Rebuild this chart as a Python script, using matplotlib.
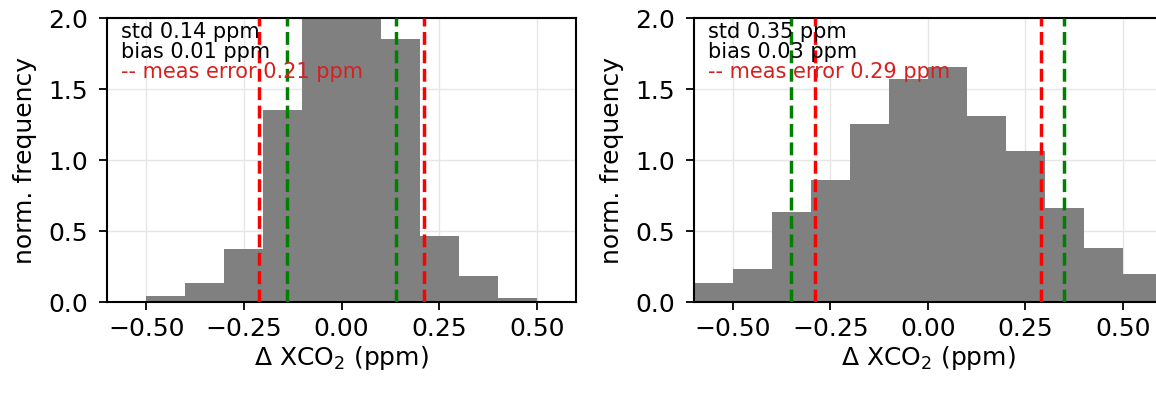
import numpy as np
import matplotlib
matplotlib.use('Agg')
import matplotlib.pyplot as plt

# left panel histogram (norm. frequency per 0.1 ppm bin)
left_edges = [-0.5, -0.4, -0.3, -0.2, -0.1, 0.0, 0.1, 0.2, 0.3, 0.4, 0.5]
left_heights = [0.045, 0.134, 0.376, 1.353, 2.9, 2.65, 1.852, 0.468, 0.181, 0.026]
left_std = 0.14
left_bias = 0.01
left_meas = 0.21

# right panel
right_edges = [-0.6, -0.5, -0.4, -0.3, -0.2, -0.1, 0.0, 0.1, 0.2, 0.3, 0.4, 0.5, 0.6]
right_heights = [0.134, 0.23, 0.635, 0.859, 1.252, 1.574, 1.656, 1.313, 1.068, 0.661, 0.381, 0.195]
right_std = 0.35
right_bias = 0.03
right_meas = 0.29

xticks = [-0.5, -0.25, 0.0, 0.25, 0.5]
yticks = [0.0, 0.5, 1.0, 1.5, 2.0]


def draw_panel(ax, edges, heights, std, bias, meas):
    edges = np.array(edges)
    ax.hist(edges[:-1], bins=edges, weights=heights, color='grey', zorder=2)
    ax.grid(True, color='#e6e6e6', lw=1, zorder=0)
    for s in [-1, 1]:
        ax.axvline(s * meas, color='red', ls='--', lw=2.5, zorder=3)
        ax.axvline(s * std, color='green', ls='--', lw=2.5, zorder=3)
    ax.set_xlim(-0.6, 0.6)
    ax.set_ylim(0, 2)
    ax.set_xticks(xticks)
    ax.set_yticks(yticks)
    ax.tick_params(labelsize=18, length=6, width=1.3)
    ax.tick_params(axis='x', pad=5)
    ax.tick_params(axis='y', pad=7.5)
    for sp in ax.spines.values():
        sp.set_linewidth(1.5)
    ax.set_xlabel(r'$\Delta$ XCO$_2$ (ppm)', fontsize=18, labelpad=2)
    ax.set_ylabel('norm. frequency', fontsize=18, labelpad=8)
    ax.text(0.03, 0.95, 'std {:.2f} ppm'.format(std), transform=ax.transAxes,
            fontsize=15, va='center', ha='left', zorder=4)
    ax.text(0.03, 0.88, 'bias {:.2f} ppm'.format(bias), transform=ax.transAxes,
            fontsize=15, va='center', ha='left', zorder=4)
    ax.text(0.03, 0.81, '-- meas error {:.2f} ppm'.format(meas), transform=ax.transAxes,
            fontsize=15, va='center', ha='left', color='#d62020', zorder=4)


fig = plt.figure(figsize=(11.56, 3.96), dpi=100)
ax1 = fig.add_axes([0.0926, 0.237, 0.4057, 0.717])
ax2 = fig.add_axes([0.6003, 0.237, 0.4048, 0.717])

draw_panel(ax1, left_edges, left_heights, left_std, left_bias, left_meas)
draw_panel(ax2, right_edges, right_heights, right_std, right_bias, right_meas)

fig.savefig('out.png', dpi=100)
